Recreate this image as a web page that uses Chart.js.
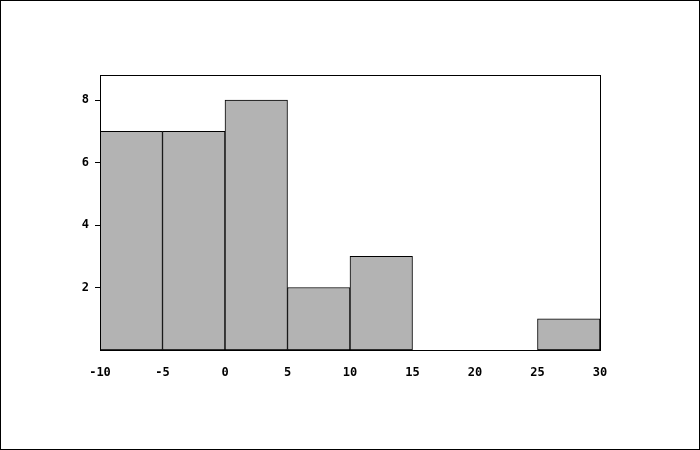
<!DOCTYPE html>
<html>
<head>
<meta charset="utf-8">
<script src="https://cdn.jsdelivr.net/npm/chart.js@4"></script>
<style>
  html, body { margin: 0; padding: 0; background: #fff; }
  #wrap { width: 700px; height: 450px; border: 1px solid #000; box-sizing: border-box; }
  canvas { display: block; }
</style>
</head>
<body>
<div id="wrap"><canvas id="histo" width="698" height="448"></canvas></div>
<script>
// bins of width 5 from -10 to 30
const binStarts = [-10, -5, 0, 5, 10, 15, 20, 25];
const binWidth = 5;
const counts = [7, 7, 8, 2, 3, 0, 0, 1];
const xTicks = [-10, -5, 0, 5, 10, 15, 20, 25, 30];
const yTicks = [2, 4, 6, 8];

const font = { family: 'DejaVu Sans Mono', size: 12, weight: 'bold' };

// frame round the plot area (top and right sides as well)
const frame = {
  id: 'frame',
  afterDraw(chart) {
    const a = chart.chartArea;
    const ctx = chart.ctx;
    ctx.save();
    ctx.strokeStyle = '#000';
    ctx.lineWidth = 1;
    ctx.strokeRect(Math.round(a.left) + 0.5, Math.round(a.top) + 0.5,
      Math.round(a.right - a.left), Math.round(a.bottom - a.top));
    ctx.restore();
  }
};

new Chart(document.getElementById('histo'), {
  type: 'bar',
  data: {
    datasets: [{
      data: binStarts.map((s, i) => ({ x: s + binWidth / 2, y: counts[i] })),
      backgroundColor: '#b3b3b3',
      borderColor: '#000',
      borderWidth: 1,
      borderSkipped: false,
      barPercentage: 1,
      categoryPercentage: 1
    }]
  },
  options: {
    responsive: false,
    animation: false,
    layout: { padding: { top: 74, right: 99, left: 0, bottom: 0 } },
    plugins: { legend: { display: false }, tooltip: { enabled: false } },
    scales: {
      x: {
        type: 'linear',
        offset: false,
        min: -10,
        max: 30,
        afterBuildTicks: (s) => { s.ticks = xTicks.map(v => ({ value: v })); },
        afterFit: (s) => { s.height = 99; },
        grid: { display: false, drawTicks: false, offset: false },
        border: { display: true, color: '#000' },
        ticks: { color: '#000', font: font, padding: 16, maxRotation: 0 }
      },
      y: {
        min: 0,
        max: 8.8,
        afterBuildTicks: (s) => { s.ticks = yTicks.map(v => ({ value: v })); },
        afterFit: (s) => { s.width = 99; },
        grid: { drawOnChartArea: false, drawTicks: true, tickLength: 5, color: '#000' },
        border: { display: true, color: '#000' },
        ticks: { color: '#000', font: font, padding: 6 }
      }
    }
  },
  plugins: [frame]
});
</script>
</body>
</html>
